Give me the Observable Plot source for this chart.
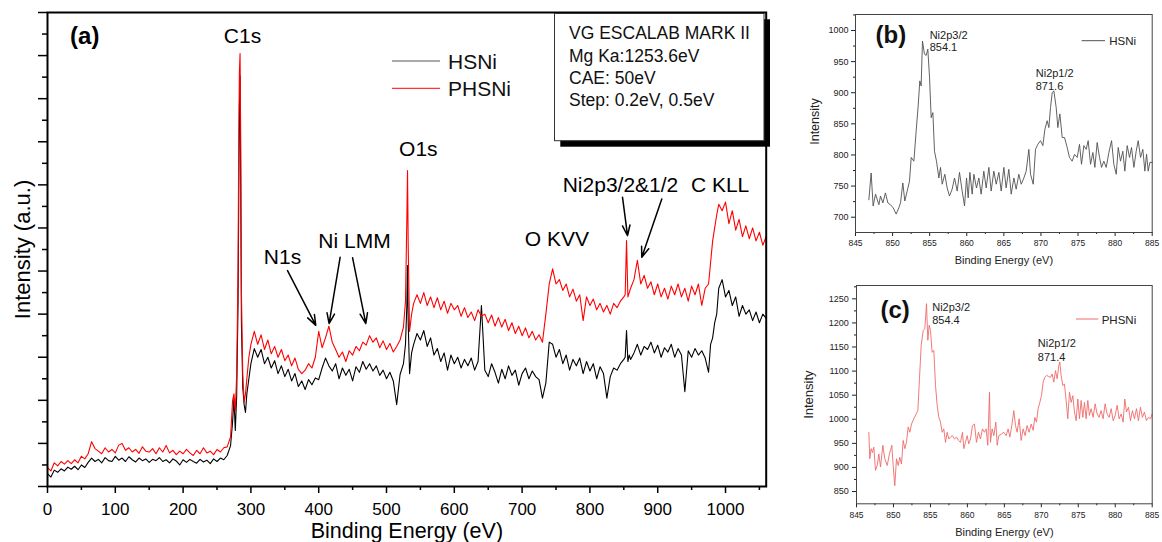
<!DOCTYPE html>
<html><head><meta charset="utf-8">
<script src="https://cdn.jsdelivr.net/npm/d3@7"></script>
<script src="https://cdn.jsdelivr.net/npm/@observablehq/plot@0.6"></script>
<style>
html,body{margin:0;padding:0;background:#fff;}
body{width:1162px;height:542px;overflow:hidden;position:relative;font-family:"Liberation Sans",Arial,sans-serif;}
.pane{position:absolute;}
#pa{left:0;top:0;width:780px;height:542px;}
#pb{left:780px;top:0;width:382px;height:270px;}
#pc{left:780px;top:270px;width:382px;height:272px;}
</style>
</head><body>
<div id="pa" class="pane"></div>
<div id="pb" class="pane"></div>
<div id="pc" class="pane"></div>
<script>
// ---------- Panel (a): survey spectra ----------
const surveyEnergy = [
  0,5,10,15,20,25,30,35,40,45,50,55,60,65,70,75,80,85,90,95,100,105,110,115,120,125,130,135,140,145,
  150,155,160,165,170,175,180,185,190,195,200,205,210,215,220,225,230,235,240,245,250,255,260,265,270,
  273,275,277,279,281,282,283,284,285,286,288,290,292,294,297,300,
  305,310,315,320,325,330,335,340,345,350,355,360,365,370,375,380,385,390,395,400,
  405,410,415,420,425,430,435,440,445,450,455,460,465,470,475,480,485,490,495,500,505,510,515,520,525,
  528,530,531,532,534,537,540,
  545,550,555,560,565,570,575,580,585,590,595,600,605,610,615,620,625,630,635,640,
  645,650,655,660,665,670,675,680,685,690,695,700,705,710,715,720,725,730,735,740,
  745,750,755,760,765,770,775,780,785,790,795,800,805,810,815,820,825,830,835,840,845,850,
  852,854,856,858,860,
  865,870,875,880,885,890,895,900,905,910,915,920,925,930,935,940,945,950,955,960,965,970,975,
  978,981,984,987,990,
  995,1000,1005,1010,1015,1020,1025,1030,1035,1040,1045,1050,1055,1060
];
const hsniSurvey = [
  30,22,38,33,41,36,45,40,47,39, 50,44,56,66,58,63,55,67,60,58, 70,61,66,58,69,62,57,66,60,64,
  56,63,60,67,58,62,55,64,59,50, 62,56,63,58,54,63,57,61,53,64, 58,66,62,72,95,
  150,205,130,210,420,650,880,953,700,380,230,190,172,215,250,285,
  320,300,318,285,300,275,292,262,280,255, 272,245,262,232,245,225,248,236,252,248,
  275,298,280,268,285,250,275,258,272,245, 278,265,290,272,285,268,280,258,270,250, 265,245,190,260,285,
  330,420,513,380,262,310,330,
  355,340,362,325,345,305,320,290,310,270, 305,285,300,275,295,280,298,270,290,420,
  270,255,285,265,240,272,250,280,258,270, 235,262,275,250,268,255,248,205,240,335,
  330,300,318,285,305,270,295,280,298,262, 290,268,285,250,278,262,205,255,275,270, 285,295,
  300,362,290,305,295,
  310,330,305,325,318,335,310,328,300,322, 312,330,300,320,305,220,315,300,320,305, 315,298,265,
  330,345,380,400,460,
  480,440,455,420,440,395,420,400,410,385, 405,380,400,390
];
const phsniSurvey = [
  44,36,55,48,58,52,60,53,62,55, 70,64,76,104,88,82,76,90,80,86, 78,96,100,84,90,80,86,77,92,82,
  80,88,76,90,80,95,78,84,74,82, 76,86,78,72,84,76,90,78,82,74, 86,80,90,92,115,
  200,215,175,260,500,780,960,1005,800,450,260,196,215,250,300,330,
  360,330,352,318,340,308,325,300,318,292, 305,280,298,272,262,270,285,275,300,360,
  322,345,372,335,318,300,312,290,315,305, 325,315,335,328,350,335,345,322,338,318, 332,312,325,340,370,
  430,620,733,560,360,400,425,
  445,425,450,420,440,415,438,410,430,402, 425,410,420,395,415,392,405,385,410,395,
  400,380,398,372,392,370,388,362,380,355, 372,350,368,345,360,340,352,335,400,470,
  505,470,480,455,470,440,458,430,445,385, 440,420,435,410,425,405,420,400,425,415, 430,440,
  445,571,440,450,460,
  480,525,470,490,460,475,445,470,440,460, 435,465,445,470,440,460,430,465,445,470, 420,460,470,
  520,570,600,630,655,
  640,660,610,640,595,620,580,605,575,600, 570,590,560,580
];
const surveyXTicks = [0,100,200,300,400,500,600,700,800,900,1000];
const surveyXMinor = [50,150,250,350,450,550,650,750,850,950,1050];
const surveyYTicks = [0,100,200,300,400,500,600,700,800,900,1000,1100];
const surveyYMinor = [50,150,250,350,450,550,650,750,850,950,1050];
const surveyPeakLabels = ["C1s","O1s","N1s","Ni LMM","O KVV","Ni2p3/2&1/2","C KLL"];
const surveyPeakEnergy = [287.6,546.9,346.6,452.8,751.2,845.1,992];
const surveyPeakLevel  = [1044,783,532,569,573,699,699];
const surveyArrows = [
  {x1:354.0,y1:501,x2:395.7,y2:374},
  {x1:431.6,y1:532,x2:415.3,y2:378},
  {x1:449.9,y1:531,x2:469.5,y2:378},
  {x1:848.1,y1:671,x2:855.5,y2:582},
  {x1:906.0,y1:667,x2:876.5,y2:532}
];
const surveySeries = ["HSNi","PHSNi"];
const infoLines = ["VG ESCALAB MARK II","Mg Ka:1253.6eV","CAE: 50eV","Step: 0.2eV, 0.5eV"];

// ---------- Panel (b): HSNi Ni2p ----------
const niEnergyB = [
  846.80,847.11,847.38,847.70,848.15,848.37,848.69,849.04,849.36,849.72,
  850.08,850.48,850.84,851.07,851.38,851.65,851.97,852.28,852.51,852.87,
  853.18,853.45,853.67,853.85,854.03,854.30,854.53,854.75,854.98,855.20,
  855.43,855.65,855.92,856.24,856.46,856.69,857.04,857.36,857.67,858.03,
  858.35,858.71,859.02,859.38,859.70,859.97,860.19,860.42,860.73,860.96,
  861.31,861.63,861.94,862.30,862.62,862.98,863.29,863.65,863.97,864.33,
  864.64,865.00,865.31,865.67,865.99,866.35,866.66,867.02,867.34,867.70,
  868.01,868.37,868.60,868.96,869.27,869.58,869.94,870.26,870.53,870.84,
  871.07,871.29,871.52,871.74,872.06,872.28,872.55,872.87,873.18,873.54,
  873.85,874.21,874.53,874.89,875.20,875.47,875.79,876.10,876.37,876.69,
  877.00,877.27,877.58,877.90,878.17,878.48,878.80,879.16,879.52,879.83,
  880.15,880.42,880.73,881.04,881.31,881.63,881.94,882.21,882.53,882.84,
  883.11,883.43,883.74,884.01,884.24,884.46,884.69,885.00
];
const niIntensityB = [
  728,771,718,737,720,734,723,739,723,720,
  715,705,715,723,755,726,742,758,796,790,
  839,879,919,911,983,962,960,970,925,860,
  868,806,790,763,780,753,769,747,734,745,
  763,742,772,742,718,763,731,772,737,769,
  747,763,737,774,747,780,742,774,753,772,
  742,780,747,777,737,763,745,769,753,763,
  774,809,769,753,809,817,823,815,841,855,
  844,876,900,903,876,844,866,828,828,812,
  796,790,801,796,817,785,815,809,823,785,
  804,780,820,796,780,790,780,804,823,785,
  769,812,790,806,774,815,796,812,780,806,
  823,796,809,774,801,774,788,788
];
const bXTicks = [845,850,855,860,865,870,875,880,885];
const bXMinor = [847.5,852.5,857.5,862.5,867.5,872.5,877.5,882.5];
const bYTicks = [700,750,800,850,900,950,1000];
const bYMinor = [725,775,825,875,925,975,1025];

// ---------- Panel (c): PHSNi Ni2p ----------
const niEnergyC = [
  846.67,846.80,846.98,847.16,847.34,847.57,847.80,848.02,848.25,848.56,
  848.83,849.15,849.46,849.78,849.96,850.18,850.41,850.64,850.86,851.09,
  851.31,851.54,851.76,851.99,852.21,852.44,852.75,853.07,853.30,853.52,
  853.75,854.02,854.24,854.47,854.65,854.83,855.01,855.23,855.46,855.69,
  855.91,856.14,856.36,856.59,856.81,857.04,857.26,857.49,857.71,857.98,
  858.26,858.53,858.80,859.07,859.34,859.52,859.74,859.97,860.19,860.42,
  860.69,860.96,861.23,861.50,861.77,862.04,862.31,862.54,862.76,862.99,
  863.12,863.35,863.58,863.85,864.03,864.25,864.57,864.93,865.24,865.51,
  865.74,866.01,866.28,866.51,866.73,867.00,867.27,867.54,867.81,868.08,
  868.35,868.63,868.90,869.12,869.35,869.57,869.80,870.02,870.25,870.47,
  870.70,870.97,871.24,871.47,871.69,871.92,872.14,872.37,872.50,872.68,
  872.91,873.13,873.36,873.58,873.81,874.04,874.26,874.49,874.71,874.94,
  875.16,875.39,875.61,875.84,876.06,876.29,876.51,876.74,877.01,877.28,
  877.55,877.82,878.09,878.36,878.63,878.90,879.18,879.45,879.72,879.99,
  880.26,880.53,880.80,881.07,881.29,881.52,881.79,882.06,882.33,882.60,
  882.87,883.14,883.41,883.68,883.95,884.22,884.49,884.77,885.00
];
const niIntensityC = [
  973,918,939,931,942,894,904,928,901,946,
  918,904,928,946,904,862,918,904,921,907,
  956,939,952,984,973,990,1001,1011,1018,1084,
  1153,1184,1188,1240,1164,1195,1184,1139,1143,1070,
  1029,1004,994,973,980,952,973,959,963,966,
  959,963,956,952,973,939,952,966,949,959,
  987,990,952,973,959,980,973,980,946,1056,
  952,980,966,994,946,966,969,973,966,980,
  963,987,1018,987,973,1001,956,980,966,987,
  973,990,977,1004,994,1022,1035,1049,1077,1087,
  1091,1089,1087,1094,1077,1101,1084,1112,1119,1091,
  1070,1073,1039,1001,1056,1035,1049,1015,997,1042,
  1001,1039,1004,1035,1001,1039,1008,1022,1004,1032,
  1011,1004,1018,1001,1032,1011,1004,1022,997,1008,
  1029,1001,1011,994,1042,1015,1025,997,1018,1001,
  1022,997,1025,1004,1015,997,1004,1001,1011
];
const cXTicks = [845,850,855,860,865,870,875,880,885];
const cXMinor = [847.5,852.5,857.5,862.5,867.5,872.5,877.5,882.5];
const cYTicks = [850,900,950,1000,1050,1100,1150,1200,1250];
const cYMinor = [875,925,975,1025,1075,1125,1175,1225,1275];

const FONT = '"Liberation Sans", Arial, sans-serif';
const BLACK = "#000000", RED = "#ff0000", GREY = "#505050", PINK = "#f06a6a";
const blank = () => "";
const plain = d => String(d);

// ---- build (a)
const nA = Math.min(surveyEnergy.length, hsniSurvey.length, phsniSurvey.length);
const surveyRows = d3.range(nA).map(i => ({e: surveyEnergy[i], h: hsniSurvey[i], p: phsniSurvey[i]}));
const peakRows = surveyPeakLabels.map((t, i) => ({t, x: surveyPeakEnergy[i], y: surveyPeakLevel[i]}));

const plotA = Plot.plot({
  width: 780, height: 542,
  marginLeft: 47, marginTop: 12, marginRight: 14.3, marginBottom: 56,
  x: {domain: [0, 1060]},
  y: {domain: [0, 1100]},
  style: {fontFamily: FONT, background: "transparent", maxWidth: "none", color: "#000"},
  marks: [
    Plot.line(surveyRows, {x: "e", y: "h", stroke: BLACK, strokeWidth: 1.1}),
    Plot.line(surveyRows, {x: "e", y: "p", stroke: RED, strokeWidth: 1.1}),
    Plot.axisX({ticks: surveyXTicks, tickFormat: plain, tickSize: 7, tickPadding: 9.5, fontSize: 17, label: null, strokeWidth: 1.5}),
    Plot.axisX({ticks: surveyXMinor, tickSize: 4, tickFormat: blank, label: null, strokeWidth: 1.5}),
    Plot.axisY({ticks: surveyYTicks, tickSize: 9, tickFormat: blank, label: null, strokeWidth: 1.5}),
    Plot.axisY({ticks: surveyYMinor, tickSize: 5, tickFormat: blank, label: null, strokeWidth: 1.5}),
    Plot.frame({stroke: "#000", strokeWidth: 2}),
    Plot.text(["Binding Energy (eV)"], {frameAnchor: "bottom", dy: 44.5, fontSize: 21.5, textAnchor: "middle", lineAnchor: "middle", fill: "#000"}),
    Plot.text(["Intensity (a.u.)"], {frameAnchor: "left", dx: -25, rotate: -90, fontSize: 22, textAnchor: "middle", lineAnchor: "middle", fill: "#000"}),
    Plot.text(peakRows, {x: "x", y: "y", text: "t", fontSize: 21, textAnchor: "middle", lineAnchor: "middle", fill: "#000"}),
    Plot.text(["(a)"], {x: 33.3, y: 1044, fontSize: 24, fontWeight: "bold", textAnchor: "start", lineAnchor: "middle", fill: "#000"}),
    Plot.arrow(surveyArrows, {x1: "x1", y1: "y1", x2: "x2", y2: "y2", stroke: "#000", strokeWidth: 1.5, headLength: 11, headAngle: 40})
  ]
});
document.getElementById("pa").appendChild(plotA);

// ---- build (b)
const rowsB = d3.range(Math.min(niEnergyB.length, niIntensityB.length)).map(i => ({e: niEnergyB[i], v: niIntensityB[i]}));
const plotB = Plot.plot({
  width: 382, height: 270,
  marginLeft: 75, marginTop: 14, marginRight: 10.3, marginBottom: 38,
  x: {domain: [845, 885]},
  y: {domain: [675.4, 1025.7]},
  style: {fontFamily: FONT, background: "transparent", maxWidth: "none", color: "#222"},
  marks: [
    Plot.line(rowsB, {x: "e", y: "v", stroke: GREY, strokeWidth: 0.9}),
    Plot.axisX({ticks: bXTicks, tickFormat: plain, tickSize: 4, tickPadding: 3.5, fontSize: 8.5, label: null}),
    Plot.axisX({ticks: bXMinor, tickSize: 2, tickFormat: blank, label: null}),
    Plot.axisY({ticks: bYTicks, tickFormat: plain, tickSize: 4, tickPadding: 3, fontSize: 9, label: null}),
    Plot.axisY({ticks: bYMinor, tickSize: 2, tickFormat: blank, label: null}),
    Plot.frame({stroke: "#444", strokeWidth: 1}),
    Plot.text(["Binding Energy (eV)"], {frameAnchor: "bottom", dy: 27.7, fontSize: 11, textAnchor: "middle", lineAnchor: "middle", fill: "#222"}),
    Plot.text(["Intensity"], {frameAnchor: "left", dx: -41, dy: -2, rotate: -90, fontSize: 12.5, textAnchor: "middle", lineAnchor: "middle", fill: "#222"}),
    Plot.text(["(b)"], {x: 847.7, y: 992, fontSize: 24, fontWeight: "bold", textAnchor: "start", lineAnchor: "middle", fill: "#111"}),
    Plot.text(["Ni2p3/2", "854.1"], {x: [855.0, 855.0], y: [992, 972.3], text: d => d, fontSize: 11, textAnchor: "start", lineAnchor: "middle", fill: "#222"}),
    Plot.text(["Ni2p1/2", "871.6"], {x: [869.3, 869.3], y: [931, 910], text: d => d, fontSize: 11, textAnchor: "start", lineAnchor: "middle", fill: "#222"})
  ]
});
document.getElementById("pb").appendChild(plotB);

// ---- build (c)
const rowsC = d3.range(Math.min(niEnergyC.length, niIntensityC.length)).map(i => ({e: niEnergyC[i], v: niIntensityC[i]}));
const plotC = Plot.plot({
  width: 382, height: 272,
  marginLeft: 76, marginTop: 15, marginRight: 10.3, marginBottom: 38.7,
  x: {domain: [845, 885]},
  y: {domain: [824.5, 1277.7]},
  style: {fontFamily: FONT, background: "transparent", maxWidth: "none", color: "#222"},
  marks: [
    Plot.line(rowsC, {x: "e", y: "v", stroke: PINK, strokeWidth: 0.9}),
    Plot.axisX({ticks: cXTicks, tickFormat: plain, tickSize: 4, tickPadding: 4.6, fontSize: 8.5, label: null}),
    Plot.axisX({ticks: cXMinor, tickSize: 2, tickFormat: blank, label: null}),
    Plot.axisY({ticks: cYTicks, tickFormat: plain, tickSize: 4, tickPadding: 3.7, fontSize: 9, label: null}),
    Plot.axisY({ticks: cYMinor, tickSize: 2, tickFormat: blank, label: null}),
    Plot.frame({stroke: "#444", strokeWidth: 1}),
    Plot.text(["Binding Energy (eV)"], {frameAnchor: "bottom", dy: 28.5, fontSize: 11, textAnchor: "middle", lineAnchor: "middle", fill: "#222"}),
    Plot.text(["Intensity"], {frameAnchor: "left", dx: -47.7, rotate: -90, fontSize: 13, textAnchor: "middle", lineAnchor: "middle", fill: "#222"}),
    Plot.text(["(c)"], {x: 848.25, y: 1225.7, fontSize: 24, fontWeight: "bold", textAnchor: "start", lineAnchor: "middle", fill: "#111"}),
    Plot.text(["Ni2p3/2", "854.4"], {x: [855.24, 855.24], y: [1232.6, 1205], text: d => d, fontSize: 11, textAnchor: "start", lineAnchor: "middle", fill: "#222"}),
    Plot.text(["Ni2p1/2", "871.4"], {x: [869.53, 869.53], y: [1156.6, 1128.8], text: d => d, fontSize: 11, textAnchor: "start", lineAnchor: "middle", fill: "#222"})
  ]
});
document.getElementById("pc").appendChild(plotC);

// ---- overlay: info box and legends
const ov = d3.select("body").append("svg")
  .attr("width", 1162).attr("height", 542)
  .style("position", "absolute").style("left", "0px").style("top", "0px")
  .style("pointer-events", "none").style("font-family", FONT);
ov.append("rect").attr("x", 560.3).attr("y", 19.3).attr("width", 209.7).attr("height", 127.4).attr("fill", "#000");
ov.append("rect").attr("x", 554.5).attr("y", 13.5).attr("width", 209.5).attr("height", 127.2)
  .attr("fill", "#fff").attr("stroke", "#333").attr("stroke-width", 1);
infoLines.forEach((t, i) => {
  ov.append("text").attr("x", 569).attr("y", 39.3 + 22.3 * i)
    .attr("font-size", 17.5).attr("fill", "#111").text(t);
});
// legend (a)
const legA = [{name: surveySeries[0], color: "#555", y: 61}, {name: surveySeries[1], color: RED, y: 88.3}];
legA.forEach(d => {
  ov.append("line").attr("x1", 392).attr("x2", 440).attr("y1", d.y).attr("y2", d.y)
    .attr("stroke", d.color).attr("stroke-width", 1);
  ov.append("text").attr("x", 448).attr("y", d.y + 7.5).attr("font-size", 21).attr("fill", "#111").text(d.name);
});
// legend (b)
ov.append("line").attr("x1", 1081.7).attr("x2", 1105).attr("y1", 40.7).attr("y2", 40.7).attr("stroke", GREY).attr("stroke-width", 1);
ov.append("text").attr("x", 1109.3).attr("y", 45).attr("font-size", 11.5).attr("fill", "#222").text(surveySeries[0]);
// legend (c)
ov.append("line").attr("x1", 1076).attr("x2", 1098.3).attr("y1", 319).attr("y2", 319).attr("stroke", PINK).attr("stroke-width", 1);
ov.append("text").attr("x", 1101.7).attr("y", 323.6).attr("font-size", 11.5).attr("fill", "#222").text(surveySeries[1]);
</script>
</body></html>
